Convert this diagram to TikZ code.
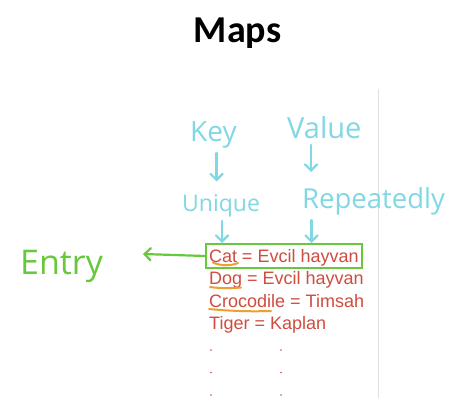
\documentclass[tikz,border=0pt]{standalone}
\usepackage{fontspec}
\setmainfont{Liberation Sans}
\newfontfamily\titlefont{Carlito}
\newfontfamily\handfont{Open Sans}
\usetikzlibrary{arrows.meta}
\definecolor{hcyan}{RGB}{128,216,228}
\definecolor{hgreen}{RGB}{104,200,60}
\definecolor{tred}{RGB}{208,76,62}
\definecolor{horange}{RGB}{236,160,48}
\begin{document}
\begin{tikzpicture}[x=1pt,y=-1pt,
  hand/.style={font=\handfont\fontsize{#1}{#1}\selectfont, text=hcyan, inner sep=0pt, anchor=base west},
  entrytext/.style={font=\handfont\fontsize{#1}{#1}\selectfont, text=hgreen, inner sep=0pt, anchor=base west},
  harrow/.style={draw=hcyan, line width=2.2pt, line cap=round, line join=round, -{Straight Barb[length=6pt,width=12pt,line cap=round]}},
  garrow/.style={draw=hgreen, line width=2.2pt, line cap=round, line join=round, -{Straight Barb[length=6pt,width=12pt,line cap=round]}},
  rtext/.style={font=\fontsize{18}{20}\selectfont, text=tred, inner sep=0pt, anchor=base west},
  uline/.style={draw=horange, line width=2pt, line cap=round},
  ddot/.style={fill=tred, circle, inner sep=0pt, minimum size=1.8pt}
]
\useasboundingbox[fill=white] (0,0) rectangle (465,417);

% title
\node[font=\titlefont\bfseries\fontsize{38}{40}\selectfont, anchor=base, inner sep=0pt] (title) at (237.5,43) {Maps};

% faint page edge
\draw[black!12, line width=0.6pt] (378,89) -- (378,398);

% handwritten labels
\node[hand=28] (key) at (190,141.5) {Key};
\node[hand=29] (value) at (287,138) {Value};
\node[hand=23] (unique) at (182,211.5) {Unique};
\node[hand=27.5] (repeat) at (302,208) {Repeatedly};
\node[entrytext=34] (entry) at (20,274) {Entry};

% map lines
\node[rtext, draw=hgreen, line width=2pt, inner xsep=3pt, inner ysep=2pt, text height=16pt, text depth=4pt] (cat) at (205,262) {Cat = Evcil hayvan};
\node[rtext] (dog) at (209,284.5) {Dog = Evcil hayvan};
\node[rtext] (croc) at (209,307) {Crocodile = Timsah};
\node[rtext] (tiger) at (209,329.5) {Tiger = Kaplan};

% arrow anchor points
\coordinate (k1) at (216.5,153);
\coordinate (k2) at (216.5,181.5);
\coordinate (v1) at (311,145);
\coordinate (v2) at (311,172);
\coordinate (u1) at (222,221);
\coordinate (r1) at (311.5,220);
\coordinate (etip) at (143,254);

\draw[harrow] (k1) -- (k2);
\draw[harrow] (v1) -- (v2);
\draw[harrow] (u1) -- (u1 |- cat.north);
\draw[harrow] (r1) -- (r1 |- cat.north);
\draw[garrow] (cat.west) -- (etip);

% underlines
\draw[uline] (213,262.5) .. controls (220,266) and (231,266) .. (238,263);
\draw[uline] (210,287) .. controls (220,288.5) and (232,288.5) .. (241,287.5);
\draw[uline] (209,309) .. controls (235,311.5) and (255,311.5) .. (271,311);

% continuation dots
\foreach \yy [count=\i] in {350,372.5,395}{
  \node[ddot] (dl\i) at (211,\yy) {};
  \node[ddot] (dr\i) at (281,\yy) {};
}
\end{tikzpicture}
\end{document}
